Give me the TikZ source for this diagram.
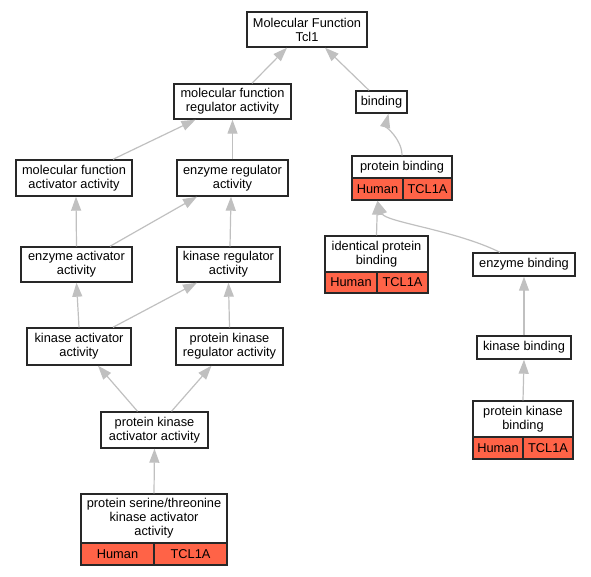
\documentclass[tikz,border=0pt]{standalone}
\usepackage{fontspec}
\setmainfont{Liberation Sans}
\usetikzlibrary{arrows.meta,calc}
\definecolor{edgec}{RGB}{192,192,192}
\definecolor{cellc}{RGB}{255,99,71}
\definecolor{boxc}{RGB}{40,40,40}
\tikzset{
  box/.style={draw=boxc, line width=1.4pt, fill=white, inner sep=0pt, align=center,
    font=\fontsize{12.8}{14}\selectfont},
  cell/.style={box, fill=cellc},
  edge/.style={draw=edgec, line width=1.2pt, ->, >={Triangle[length=14pt,width=10pt]}}
}
\begin{document}
\begin{tikzpicture}[x=1pt,y=-1pt]
\useasboundingbox (0,0) rectangle (591,576);
% nodes
\node[box, minimum width=120, minimum height=35] (mf) at (307,29.5) {Molecular Function\\Tcl1};
\node[box, minimum width=117, minimum height=35] (mfr) at (232.5,101.5) {molecular function\\regulator activity};
\node[box, minimum width=116, minimum height=36] (mfa) at (74,178) {molecular function\\activator activity};
\node[box, minimum width=111, minimum height=36] (enzreg) at (232.5,178) {enzyme regulator\\activity};
\node[box, minimum width=51, minimum height=22] (bind) at (381.5,102) {binding};
\node[box, minimum width=100, minimum height=22] (pb) at (402,167) {protein binding};
\node[cell, minimum width=51, minimum height=22] (pbh) at (377.5,189) {Human};
\node[cell, minimum width=49, minimum height=22] (pbt) at (427.5,189) {TCL1A};
\node[box, minimum width=103, minimum height=36] (ipb) at (376.5,254) {identical protein\\binding};
\node[cell, minimum width=52, minimum height=21] (ipbh) at (351,282.5) {Human};
\node[cell, minimum width=51, minimum height=21] (ipbt) at (402.5,282.5) {TCL1A};
\node[box, minimum width=102, minimum height=23] (eb) at (524,264.5) {enzyme binding};
\node[box, minimum width=111, minimum height=35] (enzact) at (76.5,264.5) {enzyme activator\\activity};
\node[box, minimum width=103, minimum height=35] (kinreg) at (228.5,264.5) {kinase regulator\\activity};
\node[box, minimum width=104, minimum height=37] (kinact) at (79,346.5) {kinase activator\\activity};
\node[box, minimum width=107, minimum height=37] (pkr) at (229.5,346.5) {protein kinase\\regulator activity};
\node[box, minimum width=107, minimum height=36] (pka) at (154.5,430) {protein kinase\\activator activity};
\node[box, minimum width=146, minimum height=49] (psta) at (154,518.5) {protein serine/threonine\\kinase activator\\activity};
\node[cell, minimum width=73, minimum height=22] (pstah) at (117.5,554) {Human};
\node[cell, minimum width=73, minimum height=22] (pstat) at (190.5,554) {TCL1A};
\node[box, minimum width=94, minimum height=23] (kb) at (524,347.5) {kinase binding};
\node[box, minimum width=100, minimum height=36] (pkb) at (523,419) {protein kinase\\binding};
\node[cell, minimum width=50, minimum height=22] (pkbh) at (498,448) {Human};
\node[cell, minimum width=50, minimum height=22] (pkbt) at (548,448) {TCL1A};
% edges
\draw[edge] ([xshift=19.5]mfr.north) -- ([xshift=-20]mf.south);
\draw[edge] ([xshift=-12.5]bind.north) -- ([xshift=18]mf.south);
\draw[edge] ([xshift=39]mfa.north) -- ([xshift=-37]mfr.south);
\draw[edge] (enzreg.north) -- (mfr.south);
\draw[edge] (pb.north) .. controls ($(pb.north)+(0,-16)$) and ($(bind.south)+(4,12)$) .. ([xshift=7]bind.south);
\draw[edge] (enzact.north) -- ([xshift=2]mfa.south);
\draw[edge] ([xshift=33.5]enzact.north) -- ([xshift=-35.5]enzreg.south);
\draw[edge] ([xshift=1.5]kinreg.north) -- ([xshift=-1.5]enzreg.south);
\draw[edge] (ipb.north) -- (pbh.south);
\draw[edge] ([xshift=-24]eb.north) .. controls (455,230) and (385,222) .. (pbh.south);
\draw[edge] (kinact.north) -- (enzact.south);
\draw[edge] ([xshift=34]kinact.north) -- ([xshift=-31.5]kinreg.south);
\draw[edge] (pkr.north) -- (kinreg.south);
\draw[edge] ([xshift=-17]pka.north) -- ([xshift=19]kinact.south);
\draw[edge] ([xshift=17]pka.north) -- ([xshift=-18]pkr.south);
\draw[edge] (psta.north) -- (pka.south);
\draw[edge] (kb.north) -- (eb.south);
\draw[edge] (pkb.north) -- (kb.south);
\end{tikzpicture}
\end{document}
